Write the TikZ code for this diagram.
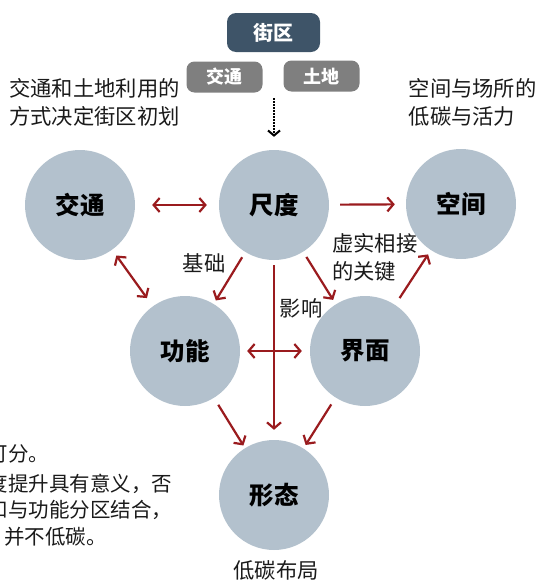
\documentclass[tikz,border=0pt]{standalone}
\usepackage{fontspec}
\setmainfont{Noto Sans CJK SC}
\usetikzlibrary{arrows.meta}
\definecolor{circfill}{HTML}{B3C1CD}
\definecolor{arrred}{HTML}{9A1B1E}
\definecolor{darkbox}{HTML}{3E5468}
\definecolor{graybox}{HTML}{7F7F7F}
\definecolor{txt}{HTML}{1A1A1A}
\tikzset{
  circ/.style={circle, fill=circfill, minimum size=110pt, inner sep=0pt, text=black,
    font=\bfseries\fontsize{24.5}{24.5}\selectfont},
  topbox/.style={rectangle, rounded corners=9pt, fill=darkbox, minimum width=93pt,
    minimum height=39pt, inner sep=0pt, text=white, font=\bfseries\fontsize{20}{20}\selectfont},
  subbox/.style={rectangle, rounded corners=8pt, fill=graybox, minimum width=76pt,
    minimum height=31pt, inner sep=0pt, text=white, font=\bfseries\fontsize{18}{18}\selectfont},
  note/.style={inner sep=0pt, text=txt, font=\fontsize{21.3}{21.3}\selectfont},
  para/.style={inner sep=0pt, text=txt, font=\fontsize{20.5}{20.5}\selectfont},
  tipb/.tip={Straight Barb[length=6pt,width=14pt]},
  arr/.style={draw=arrred, line width=2.2pt, -tipb},
  darr/.style={draw=arrred, line width=2.2pt, tipb-tipb},
}
\begin{document}
\begin{tikzpicture}[x=1pt,y=-1pt]
\path[use as bounding box] (0,0) rectangle (538,581);

% top boxes
\node[topbox] (jq) at (273.5,32.5) {街区};
\node[subbox] (bjt) at (224.5,77) {交通};
\node[subbox] (btd) at (321.5,76) {土地};

% circles
\node[circ] (jt) at (80,205) {交通};
\node[circ] (cd) at (274,205) {尺度};
\node[circ] (kj) at (461,204) {空间};
\node[circ] (gn) at (185,351) {功能};
\node[circ] (jm) at (365,351) {界面};
\node[circ] (xt) at (274,495) {形态};

% dotted arrow
\coordinate (dtop) at (274,98);
\draw[densely dotted, line width=2pt, -{Straight Barb[length=5pt,width=12pt]}, shorten >=13pt]
  (dtop) -- (cd);

% annotations
\node[note, anchor=west] (a1) at (9,88.5) {交通和土地利用的};
\node[note, anchor=west] (a2) at (9,116) {方式决定街区初划};
\node[note, anchor=west] (b1) at (408.5,88.5) {空间与场所的};
\node[note, anchor=west] (b2) at (408.5,116) {低碳与活力};
\node[note] (lj) at (204,263) {基础};
\node[note] (yx) at (301,308) {影响};
\node[note, anchor=west] (c1) at (332,243) {虚实相接};
\node[note, anchor=west] (c2) at (332,271) {的关键};
\node[note] (dt) at (276,570) {低碳布局};

% paragraph cut off at the left edge, as in the reference
\node[para, anchor=west] (p1) at (-12.5,453.5) {可分。};
\node[para, anchor=west] (p2) at (-12.5,483.5) {度提升具有意义，否};
\node[para, anchor=west] (p3) at (-12.5,510) {和与功能分区结合，};
\node[para, anchor=west] (p4) at (4,537) {并不低碳。};

% connectors
\draw[darr, shorten <=17pt, shorten >=12pt] (jt) -- (cd);
\draw[arr, shorten <=11pt, shorten >=11pt] (cd) -- (kj);
\draw[darr, shorten <=7pt, shorten >=10pt] (jt) -- (gn);
\draw[arr, shorten <=6pt, shorten >=4pt] (cd) -- (gn);
\draw[arr, shorten <=6pt, shorten >=5pt] (cd) -- (jm);
\draw[arr, shorten <=8pt, shorten >=5pt] (jm) -- (kj);
\draw[arr, shorten <=5pt, shorten >=10pt] (cd) -- (xt);
\draw[darr, shorten <=7pt, shorten >=8pt] (gn) -- (jm);
\draw[arr, shorten <=8pt, shorten >=3pt] (gn) -- (xt);
\draw[arr, shorten <=8pt, shorten >=4pt] (jm) -- (xt);
\end{tikzpicture}
\end{document}
